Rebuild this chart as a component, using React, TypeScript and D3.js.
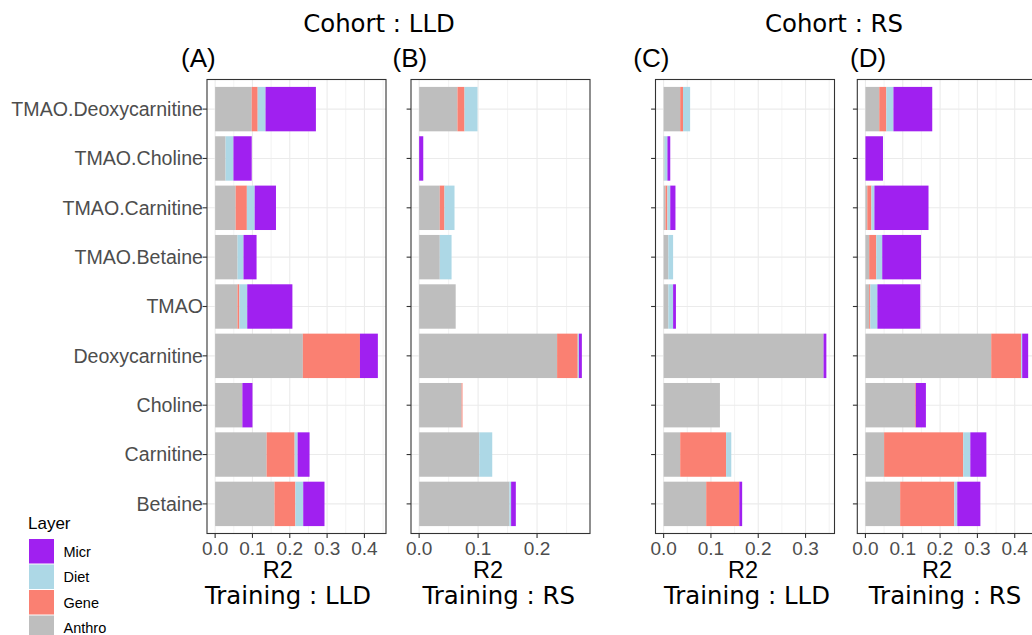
import React from "react";
import * as d3 from "d3";

const categories = [
  "TMAO.Deoxycarnitine",
  "TMAO.Choline",
  "TMAO.Carnitine",
  "TMAO.Betaine",
  "TMAO",
  "Deoxycarnitine",
  "Choline",
  "Carnitine",
  "Betaine",
];
const layers = ["Anthro", "Gene", "Diet", "Micr"];
const legendOrder = ["Micr", "Diet", "Gene", "Anthro"];
const layerColors: Record<string, string> = {
  Anthro: "#BEBEBE",
  Gene: "#FA8072",
  Diet: "#ADD8E6",
  Micr: "#A020F0",
};

// (A) Cohort LLD, Training LLD
const aAnthro = [0.098, 0.028, 0.055, 0.060, 0.060, 0.235, 0.073, 0.138, 0.159];
const aGene = [0.016, 0.0, 0.030, 0.0, 0.005, 0.153, 0.0, 0.075, 0.056];
const aDiet = [0.021, 0.021, 0.021, 0.016, 0.021, 0.0, 0.0, 0.008, 0.021];
const aMicr = [0.135, 0.049, 0.057, 0.035, 0.121, 0.048, 0.027, 0.032, 0.057];
// (B) Cohort LLD, Training RS
const bAnthro = [0.065, 0.0, 0.035, 0.035, 0.062, 0.234, 0.072, 0.102, 0.153];
const bGene = [0.012, 0.0, 0.008, 0.0, 0.0, 0.035, 0.0015, 0.0, 0.0];
const bDiet = [0.022, 0.0, 0.017, 0.020, 0.0, 0.002, 0.0, 0.022, 0.003];
const bMicr = [0.0, 0.007, 0.0, 0.0, 0.0, 0.005, 0.0, 0.0, 0.008];
// (C) Cohort RS, Training LLD
const cAnthro = [0.035, 0.002, 0.004, 0.010, 0.010, 0.338, 0.119, 0.035, 0.090];
const cGene = [0.006, 0.0, 0.004, 0.0, 0.0, 0.0, 0.0, 0.097, 0.070];
const cDiet = [0.015, 0.006, 0.006, 0.010, 0.010, 0.0, 0.0, 0.011, 0.0];
const cMicr = [0.0, 0.006, 0.011, 0.0, 0.006, 0.006, 0.0, 0.0, 0.006];
// (D) Cohort RS, Training RS
const dAnthro = [0.037, 0.0, 0.005, 0.010, 0.010, 0.337, 0.133, 0.050, 0.093];
const dGene = [0.019, 0.0, 0.011, 0.019, 0.003, 0.080, 0.002, 0.212, 0.145];
const dDiet = [0.019, 0.0, 0.008, 0.016, 0.019, 0.003, 0.0, 0.019, 0.008];
const dMicr = [0.104, 0.047, 0.145, 0.104, 0.115, 0.016, 0.027, 0.043, 0.062];

const cohortLabels = ["Cohort : LLD", "Cohort : RS"];
const tags = ["(A)", "(B)", "(C)", "(D)"];
const trainingLabels = ["Training : LLD", "Training : RS", "Training : LLD", "Training : RS"];
const xTitle = "R2";

const W = 1032;
const H = 635;
const TOP = 79.5;
const BOTTOM = 533.5;
const PW = 179;

const SANS = "'Liberation Sans', Arial, Helvetica, sans-serif";
const DEJAVU = "'DejaVu Sans', Verdana, sans-serif";

const panelData = [
  [aAnthro, aGene, aDiet, aMicr],
  [bAnthro, bGene, bDiet, bMicr],
  [cAnthro, cGene, cDiet, cMicr],
  [dAnthro, dGene, dDiet, dMicr],
];
const panelLayout = [
  { left: 207, tagX: 181, r2X: 277.7, trX: 288 },
  { left: 411, tagX: 392.5, r2X: 488, trX: 498.7 },
  { left: 655.5, tagX: 633.3, r2X: 743, trX: 747 },
  { left: 857.3, tagX: 850, r2X: 937, trX: 945 },
];

const y = d3.scalePoint<string>().domain(categories).range([TOP, BOTTOM]).padding(0.6);
const step = y.step();
const barH = step * 0.9;

function Panel({ idx }: { idx: number }) {
  const arrs = panelData[idx];
  const lay = panelLayout[idx];
  const rows = categories.map((c, i) => {
    const r: any = { cat: c };
    layers.forEach((l, j) => (r[l] = arrs[j][i]));
    return r;
  });
  const series = d3.stack<any>().keys(layers)(rows);
  const hi = d3.max(rows, (r: any) => layers.reduce((s, l) => s + r[l], 0)) as number;
  const lo = 0;
  const pad = (hi - lo) * 0.05;
  const x = d3.scaleLinear().domain([lo - pad, hi + pad]).range([lay.left, lay.left + PW]);
  const majors = d3.range(0, hi + pad + 1e-9, 0.1);
  const minors = d3.range(0.05, hi + pad, 0.1);
  const fmt = d3.format(".1f");
  return (
    <g>
      <rect x={lay.left} y={TOP} width={PW} height={BOTTOM - TOP} fill="#FFFFFF" />
      {minors.map((v) => (
        <line key={"mn" + v} x1={x(v)} x2={x(v)} y1={TOP} y2={BOTTOM} stroke="#EBEBEB" strokeWidth={0.6} />
      ))}
      {majors.map((v) => (
        <line key={"mj" + v} x1={x(v)} x2={x(v)} y1={TOP} y2={BOTTOM} stroke="#EBEBEB" strokeWidth={1.1} />
      ))}
      {categories.map((c) => (
        <line key={"h" + c} x1={lay.left} x2={lay.left + PW} y1={y(c)} y2={y(c)} stroke="#EBEBEB" strokeWidth={1.1} />
      ))}
      {series.map((s) => (
        <g key={s.key} fill={layerColors[s.key]}>
          {s.map((d: any, i: number) =>
            d[1] - d[0] > 0 ? (
              <rect
                key={i}
                x={x(d[0])}
                width={x(d[1]) - x(d[0])}
                y={(y(d.data.cat) as number) - barH / 2}
                height={barH}
              />
            ) : null
          )}
        </g>
      ))}
      <rect x={lay.left} y={TOP} width={PW} height={BOTTOM - TOP} fill="none" stroke="#333333" strokeWidth={1.1} />
      {categories.map((c) => (
        <line key={"yt" + c} x1={lay.left - 4.4} x2={lay.left} y1={y(c)} y2={y(c)} stroke="#333333" strokeWidth={1.1} />
      ))}
      {idx === 0 &&
        categories.map((c) => (
          <text
            key={"yl" + c}
            x={lay.left - 4}
            y={(y(c) as number) + 6.8}
            textAnchor="end"
            fontFamily={SANS}
            fontSize={19.6}
            fill="#4D4D4D"
          >
            {c}
          </text>
        ))}
      {majors.map((v) => (
        <g key={"xt" + v}>
          <line x1={x(v)} x2={x(v)} y1={BOTTOM} y2={BOTTOM + 4.4} stroke="#333333" strokeWidth={1.1} />
          <text x={x(v)} y={BOTTOM + 21} textAnchor="middle" fontFamily={SANS} fontSize={19} fill="#4D4D4D">
            {fmt(v)}
          </text>
        </g>
      ))}
      <text x={lay.r2X} y={578} textAnchor="middle" fontFamily={SANS} fontSize={23.5} fill="#000">
        {xTitle}
      </text>
      <text x={lay.trX} y={604} textAnchor="middle" fontFamily={DEJAVU} fontSize={24.4} fill="#000">
        {trainingLabels[idx]}
      </text>
      <text x={lay.tagX} y={67} fontFamily={SANS} fontSize={26} fill="#000">
        {tags[idx]}
      </text>
    </g>
  );
}

function Legend() {
  const kx = 29;
  const ky = 539;
  const ks = 25.5;
  return (
    <g>
      <text x={28} y={529} fontFamily={SANS} fontSize={17} fill="#000">
        Layer
      </text>
      {legendOrder.map((l, i) => (
        <g key={l}>
          <rect x={kx} y={ky + i * ks} width={25} height={ks - 1} fill={layerColors[l]} />
          <text x={63.5} y={ky + i * ks + ks / 2 + 5} fontFamily={SANS} fontSize={14.5} fill="#000">
            {l}
          </text>
        </g>
      ))}
    </g>
  );
}

export default function App() {
  return (
    <svg
      width={W}
      height={H}
      viewBox={`0 0 ${W} ${H}`}
      style={{ position: "absolute", left: 0, top: 0, background: "#FFFFFF" }}
    >
      <rect x={0} y={0} width={W} height={H} fill="#FFFFFF" />
      <text x={379} y={31.5} textAnchor="middle" fontFamily={DEJAVU} fontSize={24.4} fill="#000">
        {cohortLabels[0]}
      </text>
      <text x={834} y={31.5} textAnchor="middle" fontFamily={DEJAVU} fontSize={24.4} fill="#000">
        {cohortLabels[1]}
      </text>
      {[0, 1, 2, 3].map((i) => (
        <Panel key={i} idx={i} />
      ))}
      <Legend />
    </svg>
  );
}
